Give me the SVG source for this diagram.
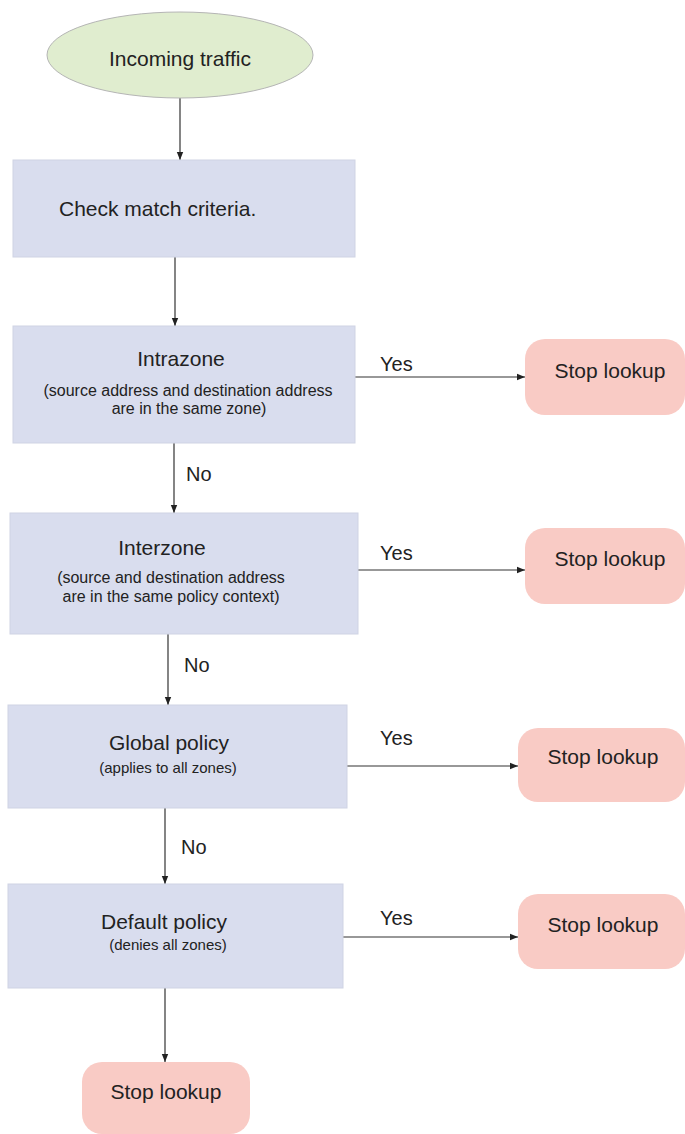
<svg xmlns="http://www.w3.org/2000/svg" width="685" height="1134" viewBox="0 0 685 1134">
<style>
.t{font-family:"Liberation Sans",Arial,sans-serif;fill:#222;}
.title{font-size:21px;}
.sub{font-size:15px;}
.sub16{font-size:16px;}
.lbl{font-size:20px;}
.box{fill:#d9ddee;stroke:#cfd3e4;stroke-width:1;}
.stop{fill:#f9cbc5;}
.edge{stroke:#333;stroke-width:1.2;fill:none;marker-end:url(#ah);}
</style>
<defs>
<marker id="ah" viewBox="0 0 10 10" refX="10" refY="5" markerWidth="8" markerHeight="8" markerUnits="userSpaceOnUse" orient="auto">
<path d="M0,1 L10,5 L0,9 z" fill="#222"/>
</marker>
</defs>
<rect width="685" height="1134" fill="#fff"/>
<g id="connectors">
<line class="edge" x1="180" y1="97" x2="180" y2="160"/>
<line class="edge" x1="175" y1="257" x2="175" y2="326"/>
<line class="edge" x1="355" y1="377" x2="525" y2="377"/>
<line class="edge" x1="174" y1="443" x2="174" y2="513"/>
<line class="edge" x1="358" y1="570" x2="525" y2="570"/>
<line class="edge" x1="168" y1="634" x2="168" y2="705"/>
<line class="edge" x1="347" y1="766" x2="518" y2="766"/>
<line class="edge" x1="165" y1="808" x2="165" y2="884"/>
<line class="edge" x1="343" y1="937" x2="518" y2="937"/>
<line class="edge" x1="165" y1="988" x2="165" y2="1062"/>
<text class="t lbl" x="380" y="371">Yes</text>
<text class="t lbl" x="186" y="481">No</text>
<text class="t lbl" x="380" y="560">Yes</text>
<text class="t lbl" x="184" y="672">No</text>
<text class="t lbl" x="380" y="745">Yes</text>
<text class="t lbl" x="181" y="854">No</text>
<text class="t lbl" x="380" y="925">Yes</text>
</g>
<g id="start">
<ellipse cx="180" cy="55" rx="133" ry="43" fill="#e0edcf" stroke="#b5b5b5" stroke-width="1"/>
<text class="t title" x="180" y="66" text-anchor="middle">Incoming traffic</text>
</g>
<g id="check">
<rect class="box" x="13" y="160" width="342" height="97"/>
<text class="t title" x="59" y="216">Check match criteria.</text>
</g>
<g id="intrazone">
<rect class="box" x="13" y="326" width="342" height="117"/>
<text class="t title" x="181" y="366" text-anchor="middle">Intrazone</text>
<text class="t sub16" x="188" y="396" text-anchor="middle">(source address and destination address</text>
<text class="t sub16" x="189" y="414" text-anchor="middle">are in the same zone)</text>
</g>
<g id="stop1">
<rect class="stop" x="525" y="339" width="160" height="76" rx="20"/>
<text class="t title" x="610" y="378" text-anchor="middle">Stop lookup</text>
</g>
<g id="interzone">
<rect class="box" x="10" y="513" width="348" height="121"/>
<text class="t title" x="162" y="555" text-anchor="middle">Interzone</text>
<text class="t sub16" x="171" y="583" text-anchor="middle">(source and destination address</text>
<text class="t sub16" x="171" y="602" text-anchor="middle">are in the same policy context)</text>
</g>
<g id="stop2">
<rect class="stop" x="525" y="528" width="160" height="76" rx="20"/>
<text class="t title" x="610" y="566" text-anchor="middle">Stop lookup</text>
</g>
<g id="global">
<rect class="box" x="8" y="705" width="339" height="103"/>
<text class="t title" x="169" y="750" text-anchor="middle">Global policy</text>
<text class="t sub" x="168" y="773" text-anchor="middle">(applies to all zones)</text>
</g>
<g id="stop3">
<rect class="stop" x="518" y="728" width="167" height="74" rx="20"/>
<text class="t title" x="603" y="764" text-anchor="middle">Stop lookup</text>
</g>
<g id="default">
<rect class="box" x="8" y="884" width="335" height="104"/>
<text class="t title" x="164" y="929" text-anchor="middle">Default policy</text>
<text class="t sub" x="168" y="950" text-anchor="middle">(denies all zones)</text>
</g>
<g id="stop4">
<rect class="stop" x="518" y="894" width="167" height="75" rx="20"/>
<text class="t title" x="603" y="932" text-anchor="middle">Stop lookup</text>
</g>
<g id="stop5">
<rect class="stop" x="82" y="1062" width="168" height="72" rx="20"/>
<text class="t title" x="166" y="1099" text-anchor="middle">Stop lookup</text>
</g>
</svg>
